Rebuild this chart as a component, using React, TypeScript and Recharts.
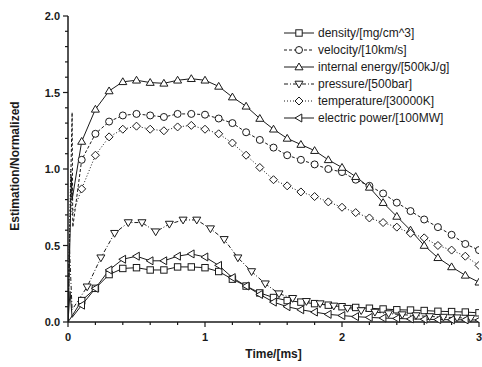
import { LineChart, Line, XAxis, YAxis, Legend } from 'recharts';

// sample times (ms) shared by most series
const TIMES = [0.1, 0.2, 0.3, 0.4, 0.5, 0.6, 0.7, 0.8, 0.9, 1.0, 1.1, 1.2, 1.3, 1.4, 1.5, 1.6, 1.7, 1.8, 1.9, 2.0, 2.1, 2.2, 2.3, 2.4, 2.5, 2.6, 2.7, 2.8, 2.9, 3.0];
const PRESSURE_TIMES = [0.14, 0.24, 0.34, 0.44, 0.54, 0.64, 0.74, 0.84, 0.94, 1.04, 1.14, 1.24, 1.34, 1.44, 1.54, 1.64, 1.74, 1.84, 1.94, 2.04, 2.14, 2.24, 2.34, 2.44, 2.54, 2.64, 2.74, 2.84, 2.94];

const DENSITY = [0.14, 0.22, 0.31, 0.35, 0.355, 0.34, 0.34, 0.36, 0.36, 0.355, 0.33, 0.28, 0.235, 0.19, 0.16, 0.14, 0.13, 0.12, 0.11, 0.1, 0.095, 0.09, 0.085, 0.08, 0.078, 0.075, 0.07, 0.068, 0.065, 0.06];
const VELOCITY = [1.06, 1.23, 1.31, 1.35, 1.36, 1.35, 1.34, 1.36, 1.36, 1.355, 1.33, 1.3, 1.24, 1.19, 1.14, 1.09, 1.06, 1.03, 1.0, 0.98, 0.93, 0.89, 0.84, 0.78, 0.725, 0.67, 0.62, 0.57, 0.51, 0.47];
const ENERGY = [1.18, 1.39, 1.51, 1.57, 1.58, 1.565, 1.56, 1.58, 1.59, 1.58, 1.54, 1.47, 1.41, 1.33, 1.26, 1.2, 1.16, 1.12, 1.06, 1.01, 0.95, 0.88, 0.78, 0.69, 0.6, 0.5, 0.42, 0.36, 0.305, 0.26];
const PRESSURE = [0.23, 0.42, 0.58, 0.65, 0.65, 0.59, 0.64, 0.667, 0.667, 0.61, 0.54, 0.42, 0.33, 0.25, 0.185, 0.155, 0.135, 0.12, 0.105, 0.09, 0.075, 0.065, 0.055, 0.048, 0.042, 0.036, 0.032, 0.028, 0.025];
const TEMPERATURE = [0.87, 1.09, 1.21, 1.26, 1.28, 1.26, 1.25, 1.275, 1.285, 1.26, 1.23, 1.17, 1.09, 1.01, 0.93, 0.89, 0.85, 0.82, 0.785, 0.75, 0.715, 0.68, 0.65, 0.62, 0.58, 0.55, 0.5, 0.47, 0.43, 0.37];
const POWER = [0.11, 0.22, 0.34, 0.41, 0.43, 0.4, 0.4, 0.43, 0.445, 0.425, 0.37, 0.29, 0.235, 0.18, 0.13, 0.1, 0.08, 0.065, 0.05, 0.042, 0.035, 0.03, 0.026, 0.023, 0.02, 0.018, 0.016, 0.015, 0.014, 0.013];

// initial transient right after t=0 (no markers)
const DENSITY_START_T = [0, 0.03];
const DENSITY_START_V = [0, 0.04];
const VELOCITY_START_T = [0, 0.03, 0.035];
const VELOCITY_START_V = [0, 1.37, 0.62];
const ENERGY_START_T = [0, 0.025, 0.03];
const ENERGY_START_V = [0, 0.95, 0.8];
const PRESSURE_START_T = [0, 0.01, 0.03];
const PRESSURE_START_V = [0, 0.5, 0.08];
const TEMPERATURE_START_T = [0, 0.02, 0.03];
const TEMPERATURE_START_V = [0, 1.0, 0.7];
const POWER_START_T = [0, 0.015, 0.03];
const POWER_START_V = [0, 0.2, 0.03];

const X_TICKS = [0, 0.2, 0.4, 0.6, 0.8, 1, 1.2, 1.4, 1.6, 1.8, 2, 2.2, 2.4, 2.6, 2.8, 3];
const Y_TICKS = [0, 0.1, 0.2, 0.3, 0.4, 0.5, 0.6, 0.7, 0.8, 0.9, 1, 1.1, 1.2, 1.3, 1.4, 1.5, 1.6, 1.7, 1.8, 1.9, 2];

const INK = '#1a1a1a';
const FONT = '"Liberation Sans", Arial, sans-serif';

const build = (st: number[], sv: number[], ts: number[], vs: number[]) => [
  ...st.map((t, i) => ({ t, v: sv[i], start: true })),
  ...ts.map((t, i) => ({ t, v: vs[i], start: false })),
];

type Shape = 'square' | 'circle' | 'up' | 'down' | 'diamond' | 'left';

const SERIES: { name: string; shape: Shape; dash?: string; data: any[] }[] = [
  { name: 'density/[mg/cm^3]', shape: 'square', data: build(DENSITY_START_T, DENSITY_START_V, TIMES, DENSITY) },
  { name: 'velocity/[10km/s]', shape: 'circle', dash: '3 2', data: build(VELOCITY_START_T, VELOCITY_START_V, TIMES, VELOCITY) },
  { name: 'internal energy/[500kJ/g]', shape: 'up', data: build(ENERGY_START_T, ENERGY_START_V, TIMES, ENERGY) },
  { name: 'pressure/[500bar]', shape: 'down', dash: '4 2 1 2', data: build(PRESSURE_START_T, PRESSURE_START_V, PRESSURE_TIMES, PRESSURE) },
  { name: 'temperature/[30000K]', shape: 'diamond', dash: '1 2', data: build(TEMPERATURE_START_T, TEMPERATURE_START_V, TIMES, TEMPERATURE) },
  { name: 'electric power/[100MW]', shape: 'left', data: build(POWER_START_T, POWER_START_V, TIMES, POWER) },
];

const Marker = ({ cx, cy, shape }: { cx: number; cy: number; shape: Shape }) => {
  const p = { fill: '#fff', stroke: INK, strokeWidth: 1 };
  const s = 3.2;
  const t = 4;
  switch (shape) {
    case 'square':
      return <rect x={cx - s} y={cy - s} width={2 * s} height={2 * s} {...p} />;
    case 'circle':
      return <circle cx={cx} cy={cy} r={s + 0.3} {...p} />;
    case 'up':
      return <polygon points={`${cx},${cy - t} ${cx + t},${cy + t * 0.7} ${cx - t},${cy + t * 0.7}`} {...p} />;
    case 'down':
      return <polygon points={`${cx},${cy + t} ${cx + t},${cy - t * 0.7} ${cx - t},${cy - t * 0.7}`} {...p} />;
    case 'diamond':
      return <polygon points={`${cx},${cy - t} ${cx + t},${cy} ${cx},${cy + t} ${cx - t},${cy}`} {...p} />;
    default:
      return <polygon points={`${cx - t},${cy} ${cx + t * 0.7},${cy - t} ${cx + t * 0.7},${cy + t}`} {...p} />;
  }
};

const makeDot = (shape: Shape) => (props: any) => {
  const { cx, cy, payload, index } = props;
  if (cx == null || cy == null || payload.start) return <g key={index} />;
  return (
    <g key={index}>
      <Marker cx={cx} cy={cy} shape={shape} />
    </g>
  );
};

const XTick = ({ x, y, payload }: any) => {
  const major = Number.isInteger(payload.value);
  return (
    <g>
      <line x1={x} x2={x} y1={y} y2={y + (major ? 5 : 3)} stroke={INK} strokeWidth={1.2} />
      {major && (
        <text x={x} y={y + 19} textAnchor="middle" fontSize={11} fontWeight="bold" fill={INK} fontFamily={FONT}>
          {payload.value}
        </text>
      )}
    </g>
  );
};

const YTick = ({ x, y, payload }: any) => {
  const v = payload.value * 2;
  const major = Math.abs(v - Math.round(v)) < 1e-6;
  return (
    <g>
      <line x1={x - (major ? 5 : 3)} x2={x} y1={y} y2={y} stroke={INK} strokeWidth={1.2} />
      {major && (
        <text x={x - 8} y={y + 4} textAnchor="end" fontSize={11} fontWeight="bold" fill={INK} fontFamily={FONT}>
          {payload.value.toFixed(1)}
        </text>
      )}
    </g>
  );
};

const LegendBox = () => (
  <div style={{ fontFamily: FONT, fontSize: 12, color: INK }}>
    {SERIES.map((s) => (
      <div key={s.name} style={{ display: 'flex', alignItems: 'center', height: 17 }}>
        <svg width={32} height={12} style={{ marginRight: 3 }}>
          <line x1={1} x2={31} y1={6} y2={6} stroke={INK} strokeWidth={1} strokeDasharray={s.dash} />
          <Marker cx={16} cy={6} shape={s.shape} />
        </svg>
        <span>{s.name}</span>
      </div>
    ))}
  </div>
);

export default function App() {
  return (
    <div style={{ position: 'absolute', left: 0, top: 0, background: '#fff' }}>
      <LineChart width={482} height={367} margin={{ top: 16, right: 3, left: 28, bottom: 15 }}>
        <XAxis
          type="number"
          dataKey="t"
          domain={[0, 3]}
          ticks={X_TICKS}
          interval={0}
          tickSize={0}
          tickMargin={0}
          tickLine={false}
          tick={<XTick />}
          height={30}
          axisLine={{ stroke: INK, strokeWidth: 1.5 }}
          allowDataOverflow
          label={{
            content: (props: any) => {
              const vb = props.viewBox;
              return (
                <text x={vb.x + vb.width / 2} y={358} textAnchor="middle" fontSize={12} fontWeight="bold" fill={INK} fontFamily={FONT}>
                  Time/[ms]
                </text>
              );
            },
          }}
        />
        <YAxis
          type="number"
          domain={[0, 2]}
          ticks={Y_TICKS}
          interval={0}
          tickSize={0}
          tickMargin={0}
          tickLine={false}
          tick={<YTick />}
          width={40}
          axisLine={{ stroke: INK, strokeWidth: 1.5 }}
          label={{
            content: (props: any) => {
              const vb = props.viewBox;
              const cx = vb.x - 13;
              const cy = vb.y + vb.height / 2 - 3;
              return (
                <text x={cx} y={cy} transform={`rotate(-90, ${cx}, ${cy})`} textAnchor="middle" dominantBaseline="central" fontSize={12} fontWeight="bold" fill={INK} fontFamily={FONT}>
                  Estimation/Normalized
                </text>
              );
            },
          }}
        />
        <Legend
          layout="vertical"
          align="center"
          verticalAlign="middle"
          content={<LegendBox />}
          wrapperStyle={{ left: 283, top: 24, width: 200, height: 110 }}
        />
        {SERIES.map((s) => (
          <Line
            key={s.name}
            data={s.data}
            dataKey="v"
            name={s.name}
            type="linear"
            stroke={INK}
            strokeWidth={1}
            strokeDasharray={s.dash}
            dot={makeDot(s.shape)}
            activeDot={false}
            isAnimationActive={false}
            legendType="none"
          />
        ))}
      </LineChart>
    </div>
  );
}
